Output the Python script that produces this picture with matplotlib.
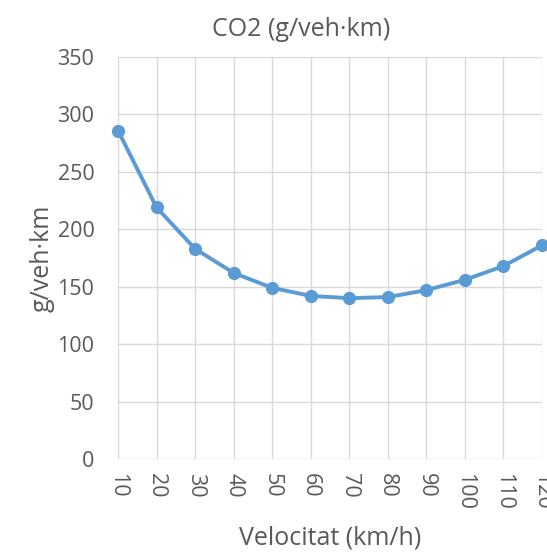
import matplotlib
matplotlib.use("Agg")
import matplotlib.pyplot as plt

speeds = [10, 20, 30, 40, 50, 60, 70, 80, 90, 100, 110, 120]
co2 = [286, 219, 183, 162, 149, 142, 140, 141, 147, 156, 168, 186]
yticks = [0, 50, 100, 150, 200, 250, 300, 350]

plt.rcParams['font.family'] = ['Open Sans', 'DejaVu Sans']
txt = '#595959'

fig = plt.figure(figsize=(5.47, 5.54), dpi=100)
ax = fig.add_axes([118/547, 1-459/554, (542-118)/547, (459-57)/554])

ax.plot(speeds, co2, color='#5B9BD5', lw=2.8, marker='o', ms=8.5, clip_on=False, zorder=3)
ax.set_xlim(10, 120)
ax.set_ylim(0, 350)
ax.set_xticks(speeds)
ax.set_xticklabels([str(s) for s in speeds], rotation=270, fontsize=15.5, color=txt)
ax.set_yticks(yticks)
ax.set_yticklabels([str(v) for v in yticks], fontsize=15.5, color=txt)
ax.tick_params(axis='both', length=0)
ax.tick_params(axis='x', pad=10)
ax.tick_params(axis='y', pad=17)
ax.grid(True, color='#D9D9D9', lw=1)
ax.set_axisbelow(True)
for s in ax.spines.values():
    s.set_visible(False)

fig.text(42/547, 1-258/554, 'g/veh·km', rotation=90, ha='center', va='center', fontsize=18, color=txt)
fig.text(330/547, 1-538/554, 'Velocitat (km/h)', ha='center', va='center', fontsize=18, color=txt)
fig.text(301/547, 1-30/554, 'CO2 (g/veh·km)', ha='center', va='center', fontsize=18, color=txt)

fig.savefig('out.png', dpi=100)
